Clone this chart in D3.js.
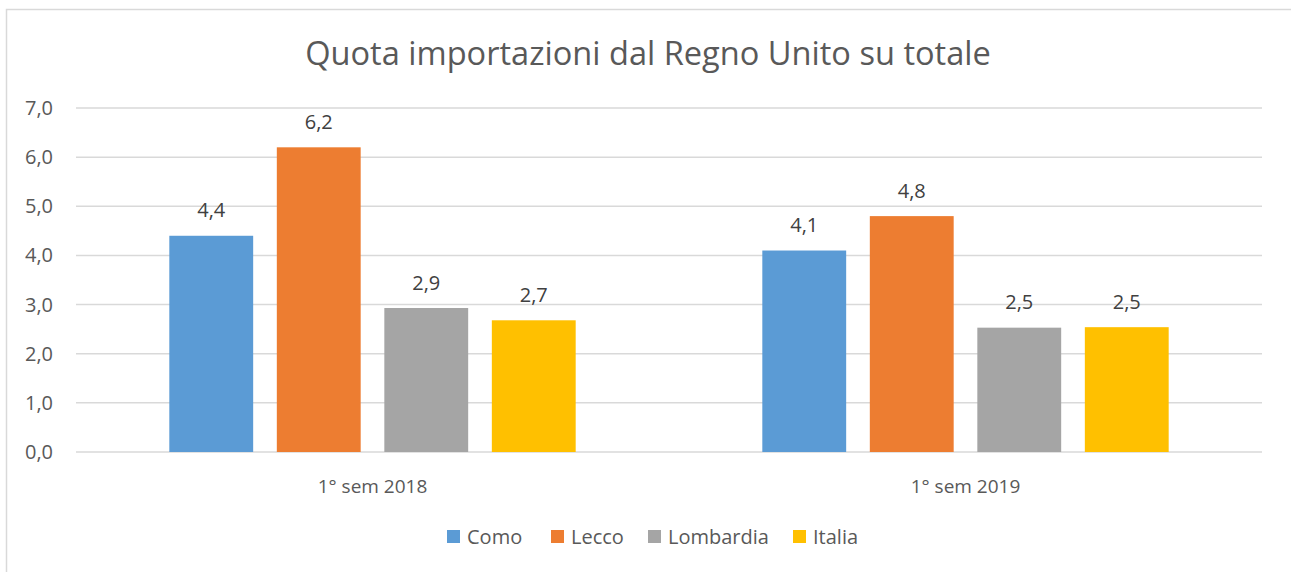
<!DOCTYPE html>
<html><head><meta charset="utf-8">
<script src="https://cdn.jsdelivr.net/npm/d3@7"></script>
<style>body{margin:0;background:#fff;}svg{display:block;font-family:"Open Sans",sans-serif;}</style>
</head><body>
<svg id="c" width="1291" height="572"></svg>
<script>
const categories = ["1° sem 2018", "1° sem 2019"];
const series = ["Como", "Lecco", "Lombardia", "Italia"];
const colors = ["#5b9bd5", "#ed7d31", "#a5a5a5", "#ffc000"];
const como = [4.4, 4.1];
const lecco = [6.2, 4.8];
const lombardia = [2.93, 2.53];
const italia = [2.68, 2.54];
const yTicks = [0, 1, 2, 3, 4, 5, 6, 7];
const title = "Quota importazioni dal Regno Unito su totale";

const values = [como, lecco, lombardia, italia];
const svg = d3.select("#c");
const fmt = v => d3.format(".1f")(v).replace(".", ",");

// chart border
svg.append("path").attr("d", "M6.5,572 V9.5 H1291").attr("fill", "none").attr("stroke", "#d9d9d9").attr("stroke-width", 1.5);

const x0 = d3.scaleBand().domain(categories).range([76, 1262]);
const x1 = d3.scaleBand().domain(series).range([0, x0.bandwidth()]).paddingInner(0.22).paddingOuter(0.868);
const y = d3.scaleLinear().domain([0, 7]).range([452, 108]);

// gridlines
svg.append("g").selectAll("line").data(yTicks).join("line")
  .attr("x1", 76).attr("x2", 1262).attr("y1", d => y(d)).attr("y2", d => y(d))
  .attr("stroke", "#d9d9d9").attr("stroke-width", 1.5);

// y labels
svg.append("g").selectAll("text").data(yTicks).join("text")
  .attr("x", 53).attr("y", d => y(d)).attr("dy", "0.35em").attr("text-anchor", "end")
  .attr("font-size", 20).attr("fill", "#595959").text(d => fmt(d));

// bars
const rows = [];
series.forEach((s, si) => categories.forEach((c, ci) => rows.push({s, c, v: values[si][ci], col: colors[si]})));
svg.append("g").selectAll("rect").data(rows).join("rect")
  .attr("x", d => x0(d.c) + x1(d.s)).attr("width", x1.bandwidth())
  .attr("y", d => y(d.v)).attr("height", d => y(0) - y(d.v)).attr("fill", d => d.col);

// data labels
svg.append("g").selectAll("text").data(rows).join("text")
  .attr("x", d => x0(d.c) + x1(d.s) + x1.bandwidth() / 2).attr("y", d => y(d.v) - 18.5)
  .attr("text-anchor", "middle").attr("font-size", 20).attr("fill", "#404040").text(d => fmt(d.v));

// category labels
svg.append("g").selectAll("text").data(categories).join("text")
  .attr("x", d => x0(d) + x0.bandwidth() / 2).attr("y", 486).attr("dy", "0.35em")
  .attr("text-anchor", "middle").attr("font-size", 19).attr("fill", "#595959").text(d => d);

// title
svg.append("text").attr("x", 648).attr("y", 65).attr("text-anchor", "middle")
  .attr("font-size", 32.6).attr("fill", "#595959").text(title);

// legend
const legX = [447, 551, 648, 793];
const lg = svg.append("g").selectAll("g").data(series).join("g")
  .attr("transform", (d, i) => `translate(${legX[i]},530)`);
lg.append("rect").attr("width", 13).attr("height", 13).attr("fill", (d, i) => colors[i]);
lg.append("text").attr("x", 20).attr("y", 7).attr("dy", "0.35em").attr("font-size", 20)
  .attr("fill", "#595959").text(d => d);
</script>
</body></html>
